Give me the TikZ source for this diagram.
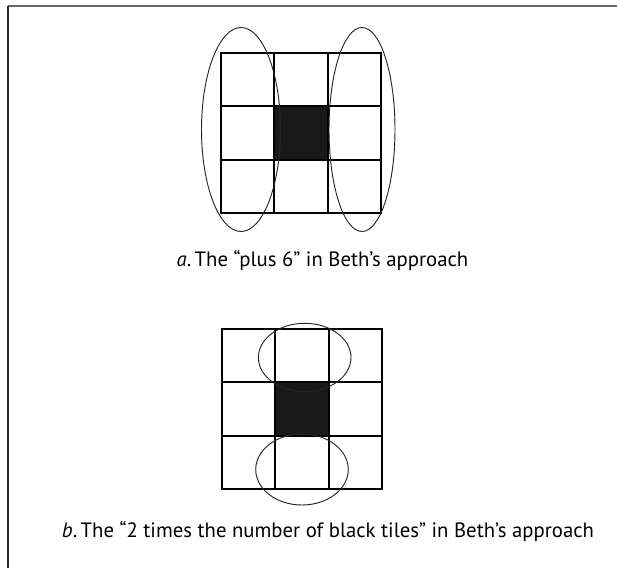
\documentclass[tikz,border=0pt]{standalone}
\usepackage{fontspec}
\setmainfont{PT Sans}
\tikzset{
  tile/.style={line width=1.7pt,line cap=rect},
  loop/.style={line width=0.8pt,black!85},
  caption/.style={anchor=base,inner sep=0pt,font=\fontsize{17.7}{20}\selectfont}
}
\begin{document}
\begin{tikzpicture}[x=0.03cm,y=-0.03cm]
                \useasboundingbox (0,0) rectangle (617,568);
                \pgfmathsetmacro\c{53.3}
                \path
                (221,53) coordinate (A)
                (222,329) coordinate (B)
                ;
                \draw[line width=1.4pt,black!60] (617,6) -- (8,6);
                \draw[line width=1.2pt,black!85] (8,6) -- (8,568);
                % the two grids
                \foreach \g in {A,B}{
                  \fill[black!90] (\g) ++(\c,\c) rectangle ++(\c,\c);
                  \foreach \i in {0,...,3}{
                    \draw[tile] (\g) ++(\i*\c,0) -- ++(0,3*\c);
                    \draw[tile] (\g) ++(0,\i*\c) -- ++(3*\c,0);
                  }
                }
                \draw[loop] (241,129.5) ellipse [x radius=39.5,y radius=102]
                            (362,129.5) ellipse [x radius=33,y radius=102];
                \draw[loop] (304.7,357.5) ellipse [x radius=46.3,y radius=34.2]
                            (302,469.5) ellipse [x radius=46.3,y radius=35.5];
                \node[caption] (capA) at (322.5,267) {\textit{a}.\,The “plus 6” in Beth’s approach};
                \node[caption] (capB) at (328,537) {\textit{b}.\,The “2 times the number of black tiles” in Beth’s approach};
            \end{tikzpicture}
\end{document}
